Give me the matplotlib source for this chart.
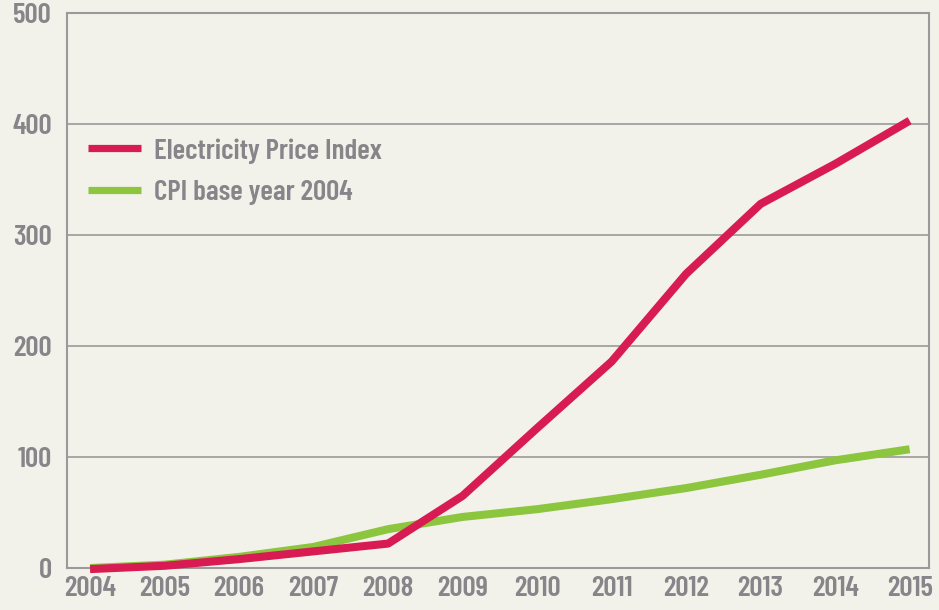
import matplotlib
matplotlib.use("Agg")
import matplotlib.pyplot as plt

years = [2004, 2005, 2006, 2007, 2008, 2009, 2010, 2011, 2012, 2013, 2014, 2015]
electricity = [-1, 2, 8, 15, 22, 65, 126, 186, 265, 328, 364, 403]
cpi = [0, 3, 10, 19, 35, 46, 53, 62, 72, 84, 97, 107]
yticks = [0, 100, 200, 300, 400, 500]

bg = "#f3f2ea"
grey = "#86868a"
red = "#d81b52"
green = "#8cc63f"

plt.rcParams['font.family'] = ['Barlow Condensed', 'DejaVu Sans']
plt.rcParams['font.weight'] = 600

fig = plt.figure(figsize=(9.39, 6.10), dpi=100, facecolor=bg)
ax = fig.add_axes([67/939, 1 - 568/610, (929-67)/939, (568-13)/610])
ax.set_facecolor(bg)

ax.plot(years, electricity, color=red, lw=5.8, solid_capstyle='butt', label="Electricity Price Index", zorder=3, clip_on=False)
ax.plot(years, cpi, color=green, lw=5.8, solid_capstyle='butt', label="CPI base year 2004", zorder=2, clip_on=False)

ax.set_xlim(2004 - 0.31, 2015 + 0.26)
ax.set_ylim(0, 500)
ax.set_yticks(yticks)
ax.set_xticks(years)
ax.set_xticklabels([str(y) for y in years])
ax.grid(axis='y', color='#9a9a9a', lw=1.2)
ax.set_axisbelow(True)
for s in ax.spines.values():
    s.set_color('#9a9a9a')
    s.set_linewidth(1.5)
    s.set_zorder(1)
ax.tick_params(length=0, labelsize=21, labelcolor=grey)
ax.tick_params(axis='y', pad=11)
ax.tick_params(axis='x', pad=6)

leg = ax.legend(loc='upper left', bbox_to_anchor=(-0.006, 0.822), frameon=False,
                prop={'size': 21, 'weight': 600},
                handlelength=1.8, labelspacing=0.55, handletextpad=0.45)
for t in leg.get_texts():
    t.set_color(grey)
for h in leg.get_lines():
    h.set_linewidth(5.2)

fig.savefig("out.png", dpi=100, facecolor=bg)
